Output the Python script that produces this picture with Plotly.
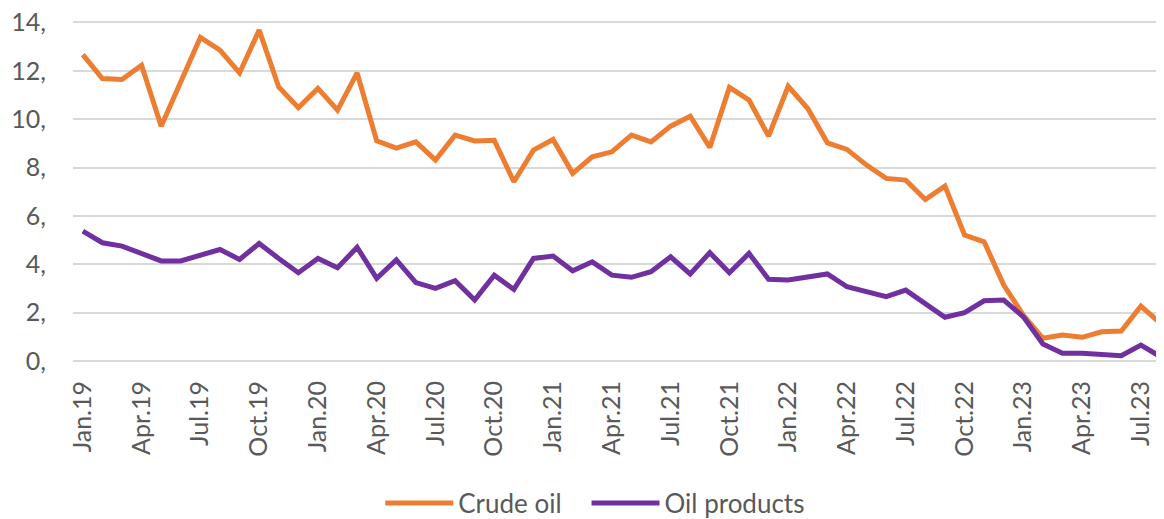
import plotly.graph_objects as go

months = [
    "Jan.19", "Feb.19", "Mar.19", "Apr.19", "May.19", "Jun.19", "Jul.19", "Aug.19", "Sep.19", "Oct.19", "Nov.19", "Dec.19",
    "Jan.20", "Feb.20", "Mar.20", "Apr.20", "May.20", "Jun.20", "Jul.20", "Aug.20", "Sep.20", "Oct.20", "Nov.20", "Dec.20",
    "Jan.21", "Feb.21", "Mar.21", "Apr.21", "May.21", "Jun.21", "Jul.21", "Aug.21", "Sep.21", "Oct.21", "Nov.21", "Dec.21",
    "Jan.22", "Feb.22", "Mar.22", "Apr.22", "May.22", "Jun.22", "Jul.22", "Aug.22", "Sep.22", "Oct.22", "Nov.22", "Dec.22",
    "Jan.23", "Feb.23", "Mar.23", "Apr.23", "May.23", "Jun.23", "Jul.23", "Aug.23",
]

crude_oil = [
    12.67, 11.68, 11.64, 12.23, 9.71, 11.50, 13.38, 12.85, 11.91, 13.68, 11.33, 10.47,
    11.27, 10.37, 11.91, 9.10, 8.80, 9.06, 8.31, 9.34, 9.10, 9.13, 7.41, 8.72,
    9.16, 7.76, 8.44, 8.65, 9.34, 9.06, 9.71, 10.12, 8.83, 11.31, 10.79, 9.30,
    11.36, 10.44, 9.02, 8.75, 8.10, 7.55, 7.48, 6.68, 7.23, 5.21, 4.93, 3.14,
    1.90, 0.94, 1.07, 0.98, 1.21, 1.24, 2.27, 1.56,
]

oil_products = [
    5.37, 4.89, 4.75, 4.45, 4.14, 4.14, 4.38, 4.61, 4.20, 4.86, 4.24, 3.65,
    4.24, 3.86, 4.70, 3.42, 4.18, 3.24, 3.00, 3.32, 2.52, 3.55, 2.96, 4.24,
    4.34, 3.73, 4.10, 3.55, 3.46, 3.69, 4.31, 3.60, 4.48, 3.65, 4.45, 3.38,
    3.35, 3.48, 3.60, 3.07, 2.86, 2.66, 2.93, 2.38, 1.81, 2.00, 2.49, 2.52,
    1.83, 0.70, 0.32, 0.32, 0.28, 0.22, 0.66, 0.18,
]

y_ticks = [0, 2, 4, 6, 8, 10, 12, 14]
y_tick_labels = ["0,", "2,", "4,", "6,", "8,", "10,", "12,", "14,"]

FONT = "Lato"
TEXT = "#595959"
GRID = "#D9D9D9"
PAD = "\u00a0" * 3  # extra room after the first legend entry

fig = go.Figure()
fig.add_trace(go.Scatter(
    x=months, y=crude_oil, name="Crude oil" + PAD, mode="lines",
    line=dict(color="#ED7D31", width=5),
))
fig.add_trace(go.Scatter(
    x=months, y=oil_products, name="Oil products", mode="lines",
    line=dict(color="#7030A0", width=5),
))

# the page body has an 8px default margin, so the figure is 8px smaller
fig.update_layout(
    width=1156, height=511,
    margin=dict(l=65, r=0, t=12, b=158),
    paper_bgcolor="white", plot_bgcolor="white",
    font=dict(family=FONT, color=TEXT, size=25),
    showlegend=True,
    legend=dict(
        orientation="h", xref="container", yref="container",
        x=0.508, xanchor="center", y=0.031, yanchor="middle",
        font=dict(family=FONT, size=26, color=TEXT),
        itemwidth=68,
        bgcolor="rgba(0,0,0,0)",
    ),
)

fig.update_xaxes(
    type="category",
    range=[-0.5, 55.18],
    tickmode="array",
    tickvals=months[::3],
    ticktext=months[::3],
    tickangle=-90,
    tickfont=dict(family=FONT, size=25, color=TEXT),
    showgrid=False, showline=False, zeroline=False,
    ticks="", ticklabelstandoff=14, automargin=False,
    ticklabeloverflow="allow",
)

fig.update_yaxes(
    range=[0, 14.1],
    tickmode="array",
    tickvals=y_ticks,
    ticktext=y_tick_labels,
    tickfont=dict(family=FONT, size=25, color=TEXT),
    showgrid=True, gridcolor=GRID, gridwidth=2,
    zeroline=True, zerolinecolor=GRID, zerolinewidth=2,
    showline=False, ticks="", ticklabelstandoff=26, automargin=False,
    ticklabeloverflow="allow",
)

fig.write_html("out.html")
